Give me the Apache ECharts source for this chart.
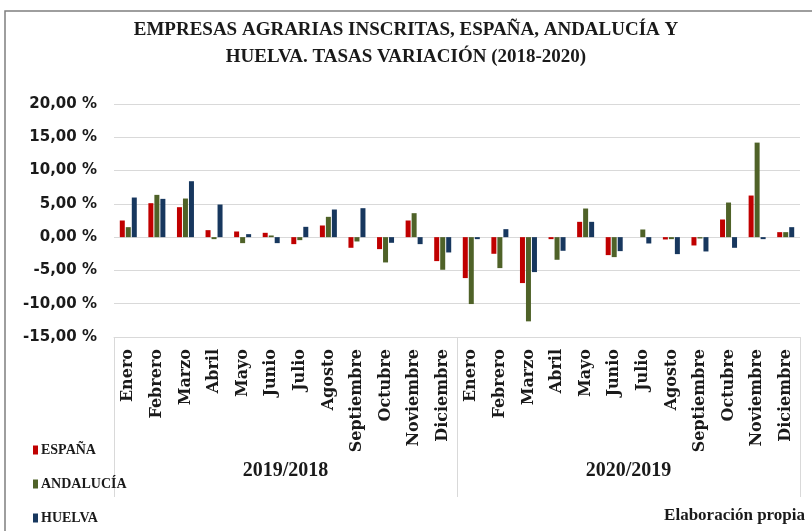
<!DOCTYPE html>
<html>
<head>
<meta charset="utf-8">
<script src="https://cdn.jsdelivr.net/npm/echarts@6/dist/echarts.min.js"></script>
<style>
  html, body { margin: 0; padding: 0; background: #fff; }
  #chart { width: 812px; height: 531px; }
</style>
</head>
<body>
<div id="chart"></div>
<script>
const meses = ['Enero', 'Febrero', 'Marzo', 'Abril', 'Mayo', 'Junio', 'Julio', 'Agosto',
    'Septiembre', 'Octubre', 'Noviembre', 'Diciembre'];
const periodos = ['2019/2018', '2020/2019'];

// tasas de variación (%)
const espana2019 = [2.5, 5.1, 4.5, 1.05, 0.85, 0.65, -1.05, 1.75, -1.6, -1.8, 2.5, -3.6];
const espana2020 = [-6.15, -2.5, -6.9, -0.3, 2.3, -2.7, 0.0, -0.35, -1.25, 2.65, 6.25, 0.75];
const andalucia2019 = [1.5, 6.35, 5.8, -0.3, -0.9, 0.25, -0.45, 3.05, -0.65, -3.8, 3.6, -4.9];
const andalucia2020 = [-10.05, -4.65, -12.65, -3.4, 4.3, -3.0, 1.15, -0.3, -0.2, 5.2, 14.2, 0.75];
const huelva2019 = [5.95, 5.75, 8.4, 4.9, 0.45, -0.9, 1.55, 4.15, 4.35, -0.85, -1.05, -2.3];
const huelva2020 = [-0.3, 1.2, -5.25, -2.05, 2.3, -2.1, -0.95, -2.55, -2.15, -1.6, -0.3, 1.5];

const categorias = meses.concat(meses);
const serif = '"Liberation Serif", serif';

const chart = echarts.init(document.getElementById('chart'));

const option = {
    animation: false,
    color: ['#C00000', '#4F6228', '#17375E'],
    title: {
        text: 'EMPRESAS AGRARIAS INSCRITAS, ESPAÑA, ANDALUCÍA Y\nHUELVA. TASAS VARIACIÓN (2018-2020)',
        left: 'center',
        top: 12,
        textStyle: {
            fontFamily: serif, fontWeight: 'bold', fontSize: 19,
            lineHeight: 27, color: '#1a1a1a'
        }
    },
    legend: {
        orient: 'vertical',
        left: 33,
        top: 443,
        padding: 0,
        height: 100,
        icon: 'rect',
        itemWidth: 5,
        itemHeight: 9,
        itemGap: 20,
        textStyle: { fontFamily: serif, fontWeight: 'bold', fontSize: 14, color: '#1a1a1a', padding: [0, 0, 0, -2] },
        data: ['ESPAÑA', 'ANDALUCÍA', 'HUELVA']
    },
    grid: { left: 114, right: 12, top: 104, bottom: 194 },
    xAxis: [{
        type: 'category',
        data: categorias,
        position: 'bottom',
        axisLine: { onZero: false, lineStyle: { color: '#d9d9d9' } },
        axisTick: { show: false },
        axisLabel: {
            rotate: 90,
            interval: 0,
            margin: 12,
            fontFamily: '"DejaVu Serif", serif',
            fontWeight: 'bold',
            fontSize: 16,
            color: '#1a1a1a'
        }
    }, {
        type: 'category',
        data: periodos,
        position: 'bottom',
        axisLine: { show: false },
        axisTick: { show: false },
        axisLabel: {
            margin: 124,
            fontFamily: serif,
            fontWeight: 'bold',
            fontSize: 20,
            color: '#1a1a1a'
        }
    }],
    yAxis: {
        type: 'value',
        min: -15,
        max: 20,
        interval: 5,
        axisLine: { show: false },
        axisTick: { show: false },
        splitLine: { lineStyle: { color: '#d9d9d9' } },
        axisLabel: {
            margin: 17,
            fontFamily: '"DejaVu Sans", sans-serif',
            fontWeight: 'bold',
            fontSize: 15,
            color: '#1a1a1a',
            formatter: v => v.toFixed(2).replace('.', ',') + ' %'
        }
    },
    series: [
        { name: 'ESPAÑA', type: 'bar', barWidth: 5, barGap: '20%', data: espana2019.concat(espana2020) },
        { name: 'ANDALUCÍA', type: 'bar', barWidth: 5, barGap: '20%', data: andalucia2019.concat(andalucia2020) },
        { name: 'HUELVA', type: 'bar', barWidth: 5, barGap: '20%', data: huelva2019.concat(huelva2020) }
    ]
};

chart.setOption(option);

// separadores de la tabla de categorías, a partir de la escala del eje de periodos
const c0 = chart.convertToPixel({ xAxisIndex: 1 }, 0);
const c1 = chart.convertToPixel({ xAxisIndex: 1 }, 1);
const band = c1 - c0;
const yTop = chart.convertToPixel({ yAxisIndex: 0 }, -15);
const separadores = [c0 - band / 2, c0 + band / 2, c1 + band / 2].map(x => ({
    type: 'line',
    silent: true,
    shape: { x1: Math.round(x) + 0.5, y1: yTop, x2: Math.round(x) + 0.5, y2: yTop + 160 },
    style: { stroke: '#d9d9d9', lineWidth: 1 }
}));

chart.setOption({
    graphic: [{
        type: 'rect',
        silent: true,
        shape: { x: 5, y: 11, width: 840, height: 560 },
        style: { fill: 'none', stroke: '#7f7f7f', lineWidth: 1.5 }
    }, {
        type: 'text',
        right: 7,
        top: 507,
        style: {
            text: 'Elaboración propia',
            font: 'bold 17px "Liberation Serif", serif',
            fill: '#1a1a1a'
        }
    }].concat(separadores)
});
</script>
</body>
</html>
